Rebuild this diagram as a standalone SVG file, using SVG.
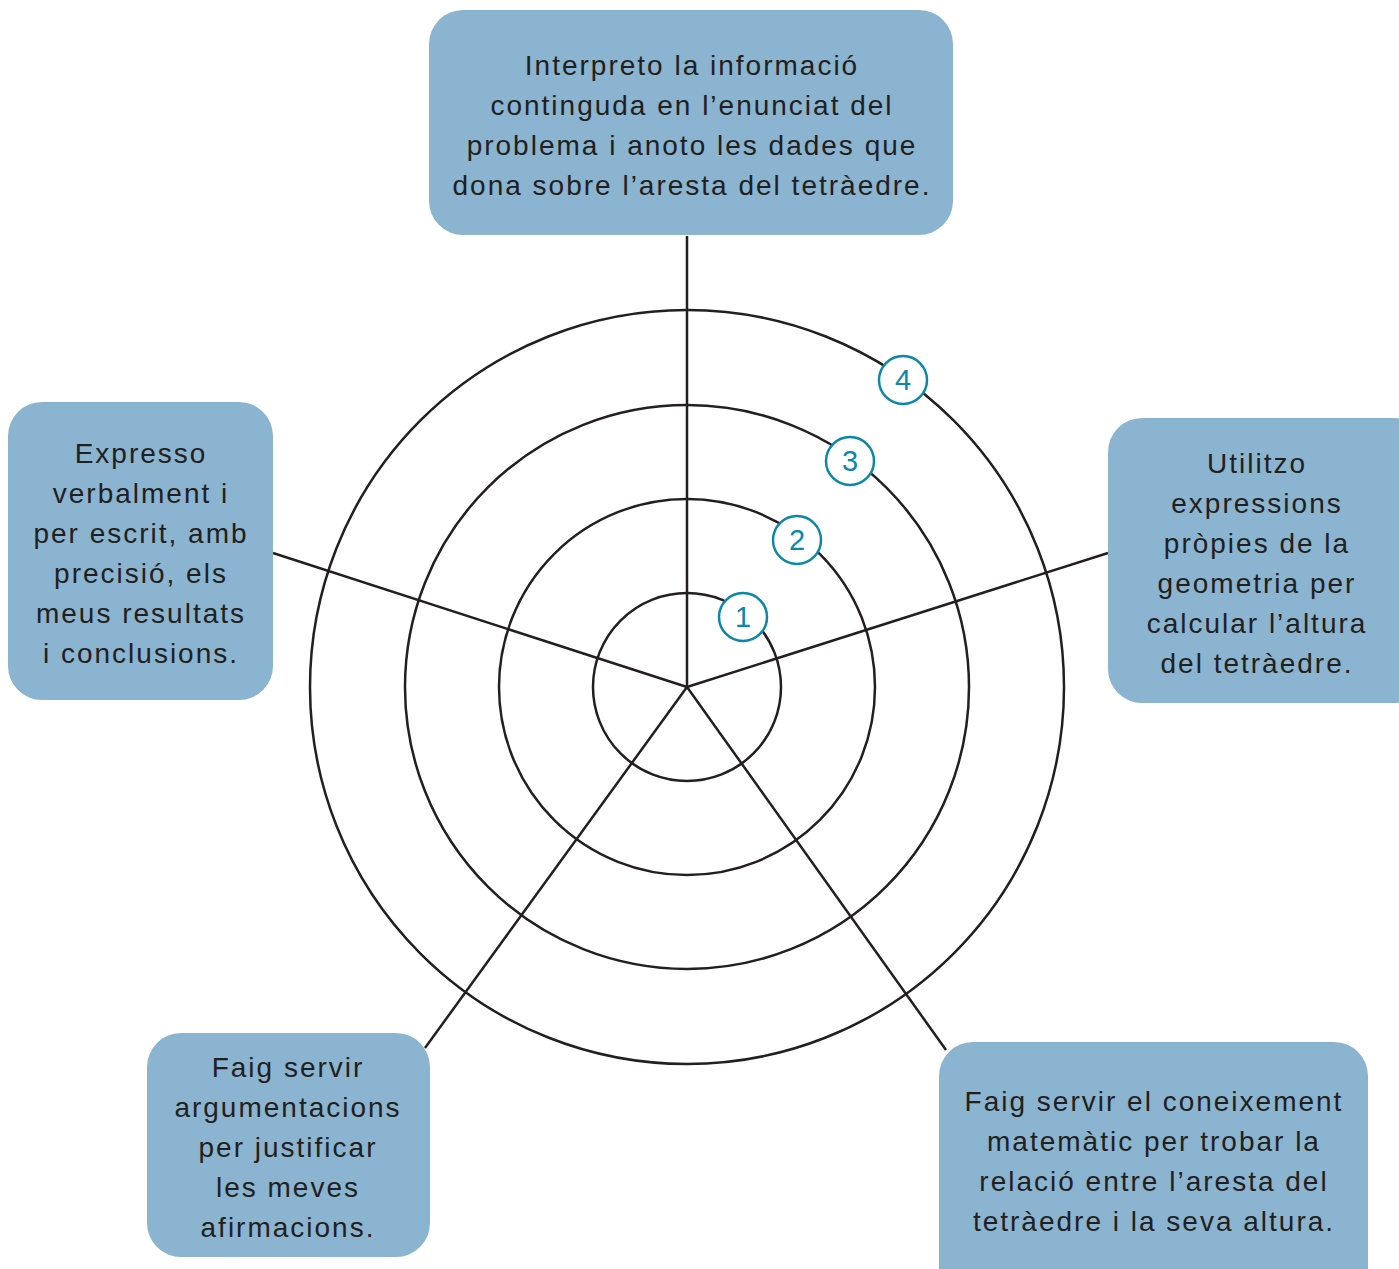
<svg xmlns="http://www.w3.org/2000/svg" width="1399" height="1269" viewBox="0 0 1399 1269">
<style>
.box{fill:#8ab4cf;}
.t{font-family:"Liberation Sans",Arial,sans-serif;font-size:28px;fill:#231f20;text-anchor:middle;letter-spacing:2px;}
.ring{fill:none;stroke:#231f20;stroke-width:2.5;}
.spoke{stroke:#231f20;stroke-width:2.5;fill:none;}
.num{fill:#fff;stroke:#0b87aa;stroke-width:2.5;}
.nt{font-family:"Liberation Sans",Arial,sans-serif;font-size:29px;fill:#0b87aa;text-anchor:middle;}
</style>
<rect width="1399" height="1269" fill="#fff"/>
<g id="connectors">
<line class="spoke" x1="687" y1="687" x2="687" y2="236"/>
<line class="spoke" x1="687" y1="687" x2="1108" y2="553"/>
<line class="spoke" x1="687" y1="687" x2="273" y2="553"/>
<line class="spoke" x1="687" y1="687" x2="425" y2="1048"/>
<line class="spoke" x1="687" y1="687" x2="946" y2="1050"/>
</g>
<g id="rings">
<circle class="ring" cx="687" cy="687" r="94"/>
<circle class="ring" cx="687" cy="687" r="188"/>
<circle class="ring" cx="687" cy="687" r="282"/>
<circle class="ring" cx="687" cy="687" r="377"/>
</g>
<g id="levels">
<g id="level1"><circle class="num" cx="743" cy="617" r="24"/><text class="nt" x="743" y="627">1</text></g>
<g id="level2"><circle class="num" cx="797" cy="540" r="24"/><text class="nt" x="797" y="550">2</text></g>
<g id="level3"><circle class="num" cx="850" cy="461" r="24"/><text class="nt" x="850" y="471">3</text></g>
<g id="level4"><circle class="num" cx="903" cy="380" r="24"/><text class="nt" x="903" y="390">4</text></g>
</g>
<g id="node-top">
<rect class="box" x="429" y="10" width="524" height="225" rx="34"/>
<text class="t" x="692" y="75">Interpreto la informació</text>
<text class="t" x="692" y="115">continguda en l’enunciat del</text>
<text class="t" x="692" y="155">problema i anoto les dades que</text>
<text class="t" x="692" y="195">dona sobre l’aresta del tetràedre.</text>
</g>
<g id="node-right">
<rect class="box" x="1108" y="418" width="320" height="285" rx="34"/>
<text class="t" x="1257" y="473">Utilitzo</text>
<text class="t" x="1257" y="513">expressions</text>
<text class="t" x="1257" y="553">pròpies de la</text>
<text class="t" x="1257" y="593">geometria per</text>
<text class="t" x="1257" y="633">calcular l’altura</text>
<text class="t" x="1257" y="673">del tetràedre.</text>
</g>
<g id="node-left">
<rect class="box" x="8" y="402" width="265" height="298" rx="34"/>
<text class="t" x="141" y="463">Expresso</text>
<text class="t" x="141" y="503">verbalment i</text>
<text class="t" x="141" y="543">per escrit, amb</text>
<text class="t" x="141" y="583">precisió, els</text>
<text class="t" x="141" y="623">meus resultats</text>
<text class="t" x="141" y="663">i conclusions.</text>
</g>
<g id="node-bottom-left">
<rect class="box" x="147" y="1033" width="283" height="224" rx="34"/>
<text class="t" x="288" y="1077">Faig servir</text>
<text class="t" x="288" y="1117">argumentacions</text>
<text class="t" x="288" y="1157">per justificar</text>
<text class="t" x="288" y="1197">les meves</text>
<text class="t" x="288" y="1237">afirmacions.</text>
</g>
<g id="node-bottom-right">
<rect class="box" x="939" y="1042" width="429" height="260" rx="34"/>
<text class="t" x="1154" y="1111">Faig servir el coneixement</text>
<text class="t" x="1154" y="1151">matemàtic per trobar la</text>
<text class="t" x="1154" y="1191">relació entre l’aresta del</text>
<text class="t" x="1154" y="1231">tetràedre i la seva altura.</text>
</g>
</svg>
